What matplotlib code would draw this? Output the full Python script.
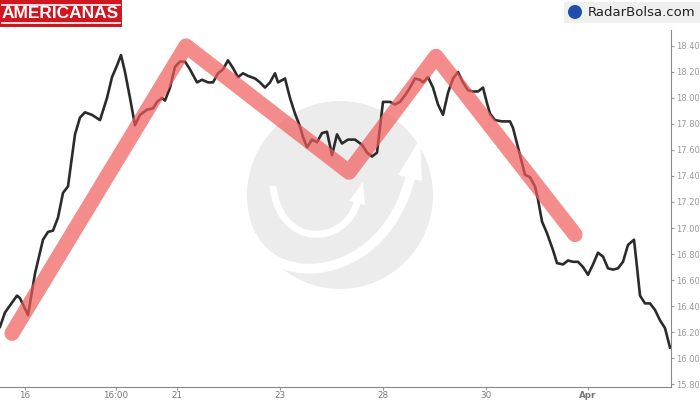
import numpy as np
import matplotlib.pyplot as plt
from matplotlib.patches import Ellipse, Rectangle, Circle, Polygon, PathPatch
from matplotlib.path import Path

# time position of each quote (chart units) and closing price
t = [0, 5, 17, 20, 28, 35, 43, 48, 53, 58, 63, 68, 72, 75, 80, 85, 92, 100,
     107, 112, 117, 121, 125, 130, 135, 140, 147, 153, 157, 162, 165, 170,
     175, 180, 185, 190, 197, 202, 208, 213, 218, 223, 228, 233, 238, 243,
     248, 255, 260, 265, 270, 275, 278, 285, 290, 295, 300, 303, 307, 312,
     317, 322, 327, 332, 337, 342, 348, 355, 362, 367, 372, 377, 383, 390,
     395, 400, 405, 410, 415, 420, 423, 428, 433, 438, 443, 448, 453, 458,
     463, 468, 473, 478, 483, 487, 490, 495, 502, 510, 513, 518, 522, 525,
     530, 535, 538, 542, 547, 553, 557, 563, 568, 573, 578, 583, 588, 593,
     598, 603, 608, 613, 618, 623, 628, 634, 637, 640, 645, 650, 655, 660,
     665, 670]
price = [16.24, 16.35, 16.48, 16.46, 16.33, 16.65, 16.91, 16.97, 16.98, 17.08,
         17.27, 17.32, 17.55, 17.72, 17.85, 17.89, 17.87, 17.83, 18.00, 18.16,
         18.25, 18.33, 18.20, 18.00, 17.79, 17.87, 17.91, 17.92, 17.97, 18.00,
         17.98, 18.08, 18.24, 18.28, 18.28, 18.22, 18.12, 18.14, 18.12, 18.12,
         18.19, 18.22, 18.29, 18.23, 18.16, 18.19, 18.17, 18.15, 18.12, 18.08,
         18.12, 18.19, 18.12, 18.15, 18.00, 17.88, 17.78, 17.70, 17.62, 17.68,
         17.66, 17.73, 17.74, 17.56, 17.72, 17.65, 17.68, 17.68, 17.64, 17.58,
         17.55, 17.58, 17.97, 17.97, 17.95, 17.97, 18.02, 18.08, 18.15, 18.14,
         18.12, 18.16, 18.08, 17.95, 17.87, 18.04, 18.15, 18.20, 18.12, 18.06,
         18.05, 18.05, 18.08, 17.96, 17.88, 17.83, 17.82, 17.82, 17.77, 17.62,
         17.50, 17.41, 17.39, 17.32, 17.22, 17.05, 16.96, 16.83, 16.73, 16.72,
         16.75, 16.74, 16.74, 16.70, 16.64, 16.72, 16.81, 16.78, 16.69, 16.68,
         16.69, 16.74, 16.87, 16.91, 16.70, 16.48, 16.42, 16.42, 16.37, 16.29,
         16.23, 16.08]

# double top pattern drawn over the price
pattern_t = [12, 186, 349, 436, 575]
pattern_price = [16.19, 18.40, 17.43, 18.32, 16.95]

tick_pos = [25, 116, 177, 280, 383, 486, 588]
tick_labels = ["16", "16:00", "21", "23", "28", "30", "Apr"]
y_ticks = [15.8, 16.0, 16.2, 16.4, 16.6, 16.8, 17.0, 17.2, 17.4, 17.6,
           17.8, 18.0, 18.2, 18.4]

fig = plt.figure(figsize=(7, 4), dpi=100)

# background layer in pixel coordinates for the logos / watermark
bg = fig.add_axes([0, 0, 1, 1], zorder=0)
bg.set_xlim(0, 700)
bg.set_ylim(400, 0)
bg.axis("off")

# watermark: grey disc with two white swoosh arrows
bg.add_patch(Ellipse((340, 195), 186, 188, fc="#ececec", ec="none"))
outer = Path([(252, 236), (280, 292), (385, 278), (410, 178)],
             [Path.MOVETO, Path.CURVE4, Path.CURVE4, Path.CURVE4])
bg.add_patch(PathPatch(outer, fc="none", ec="white", lw=7, capstyle="butt"))
bg.add_patch(Polygon([(398, 175), (422, 181), (420, 139)], fc="white", ec="none"))
inner = Path([(273, 186), (280, 250), (345, 245), (357, 203)],
             [Path.MOVETO, Path.CURVE4, Path.CURVE4, Path.CURVE4])
bg.add_patch(PathPatch(inner, fc="none", ec="white", lw=5, capstyle="butt"))
bg.add_patch(Polygon([(349, 201), (365, 205), (363, 182)], fc="white", ec="none"))

# AMERICANAS badge
bg.add_patch(Rectangle((0, 0), 122, 27, fc="#d0161e", ec="none"))
bg.plot([2, 120], [4.5, 4.5], color="white", lw=1.2)
bg.plot([2, 120], [22.5, 22.5], color="white", lw=1.2)
bg.text(60, 14, "AMERICANAS", color="white", fontsize=12.5, fontweight="bold",
        family="Liberation Sans", ha="center", va="center")

# RadarBolsa badge
bg.add_patch(Rectangle((564, 2), 136, 21, fc="#efefef", ec="none"))
bg.add_patch(Circle((575, 12), 7, fc="#1f4fa8", ec="none"))
bg.text(588, 12.5, "RadarBolsa.com", color="#222222", fontsize=9.5,
        family="DejaVu Sans", ha="left", va="center")

ax = fig.add_axes([0, 13 / 400, 671 / 700, 357 / 400], zorder=1)
ax.patch.set_alpha(0)

ax.plot(t, price, color="#2b2b2b", lw=1.9, zorder=2)
ax.plot(pattern_t, pattern_price, color="#f25c5c", alpha=0.7, lw=11,
        solid_capstyle="round", solid_joinstyle="round", zorder=3)

ax.set_xlim(0, 671)
ax.set_ylim(15.777, 18.523)

ax.set_xticks(tick_pos)
ax.set_xticklabels(tick_labels)
for lab in ax.get_xticklabels():
    if lab.get_text() == "Apr":
        lab.set_fontweight("bold")
        lab.set_color("#555555")
ax.tick_params(axis="x", direction="out", length=2.5, color="#999999",
               labelsize=6.3, labelcolor="#777777", pad=0.5)

ax.yaxis.tick_right()
ax.set_yticks(y_ticks)
ax.set_yticklabels([f"{v:.2f}" for v in y_ticks])
ax.tick_params(axis="y", direction="out", length=2.5, color="#999999",
               labelsize=6, labelcolor="#999999", pad=1.5)

for side in ["top", "left"]:
    ax.spines[side].set_visible(False)
ax.spines["bottom"].set_color("#888888")
ax.spines["right"].set_color("#888888")

fig.savefig("out.png", dpi=100)
